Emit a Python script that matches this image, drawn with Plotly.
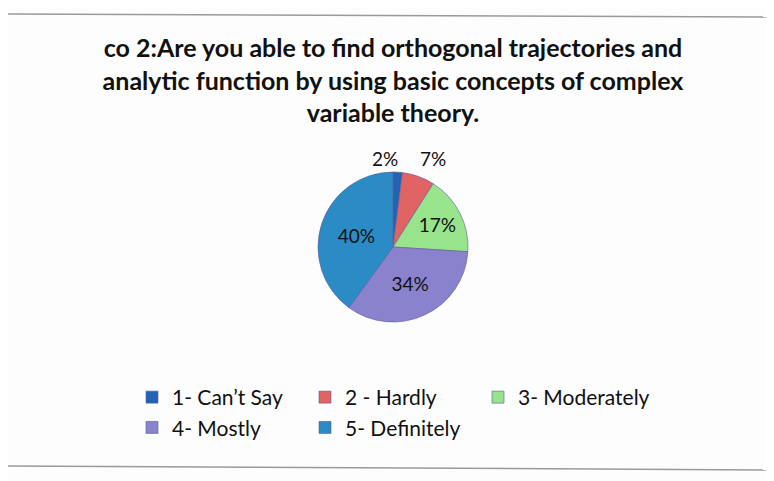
import plotly.graph_objects as go

labels = ["1- Can\u2019t Say", "2 - Hardly", "3- Moderately", "4- Mostly", "5- Definitely"]
values = [2, 7, 17, 34, 40]
colors = ["#2463b4", "#e06464", "#98e48c", "#8a82cc", "#2b8bc4"]

total = sum(values)
pct = [f"{v / total * 100:.0f}%" for v in values]

W, H = 774, 481
ML = 100  # side margins, they also make the legend wrap after 3 entries
PW = W - 2 * ML


def px(x, y):
    # page pixel -> paper coords (page has an 8px body margin)
    return (x - 8 - ML) / PW, 1 - (y - 8) / H


fig = go.Figure()

# small slices get their labels above the pie, like the original
fig.add_trace(go.Pie(
    labels=labels,
    values=values,
    sort=False,
    direction="clockwise",
    rotation=0,
    marker=dict(colors=colors, line=dict(color="#5a5a9a", width=0.6)),
    text=pct,
    textinfo="text",
    textposition=["none", "none", "inside", "inside", "inside"],
    textfont=dict(family="Lato", size=19, color="#111111"),
    insidetextorientation="horizontal",
    domain=dict(x=[px(318, 0)[0], px(468, 0)[0]], y=[px(0, 322)[1], px(0, 172)[1]]),
    showlegend=True,
))

a2 = px(385, 158)
a7 = px(433, 158)

fig.update_layout(
    width=W,
    height=H,
    margin=dict(l=ML, r=ML, t=0, b=0, autoexpand=False),
    paper_bgcolor="#fdfdfd",
    plot_bgcolor="#fdfdfd",
    title=dict(
        text="<b>co 2:Are you able to find orthogonal trajectories and<br>"
             "analytic function by using basic concepts of complex<br>"
             "variable theory.</b>",
        xref="container", x=(393 - 8) / W, xanchor="center", y=0.898, yanchor="top",
        font=dict(family="Lato", size=25, color="#111111"),
    ),
    legend=dict(
        orientation="h",
        xref="container", yref="container",
        x=124 / W, xanchor="left",
        y=1 - 369 / H, yanchor="top",
        entrywidth=128,
        font=dict(family="Lato", size=21, color="#111111"),
        itemwidth=30,
        bgcolor="rgba(0,0,0,0)",
    ),
    annotations=[
        dict(text=pct[0], x=a2[0], y=a2[1], xref="paper", yref="paper",
             xanchor="center", yanchor="middle", showarrow=False,
             font=dict(family="Lato", size=19, color="#111111")),
        dict(text=pct[1], x=a7[0], y=a7[1], xref="paper", yref="paper",
             xanchor="center", yanchor="middle", showarrow=False,
             font=dict(family="Lato", size=19, color="#111111")),
    ],
    shapes=[
        dict(type="line", xref="paper", yref="paper", x0=px(0, 0)[0], x1=px(W + 8, 0)[0],
             y0=px(0, 14)[1], y1=px(0, 17)[1], line=dict(color="#9a9a9a", width=1.5)),
        dict(type="line", xref="paper", yref="paper", x0=px(0, 0)[0], x1=px(W + 8, 0)[0],
             y0=px(0, 466)[1], y1=px(0, 470)[1], line=dict(color="#9a9a9a", width=1.5)),
    ],
)

fig.write_html("out.html")
